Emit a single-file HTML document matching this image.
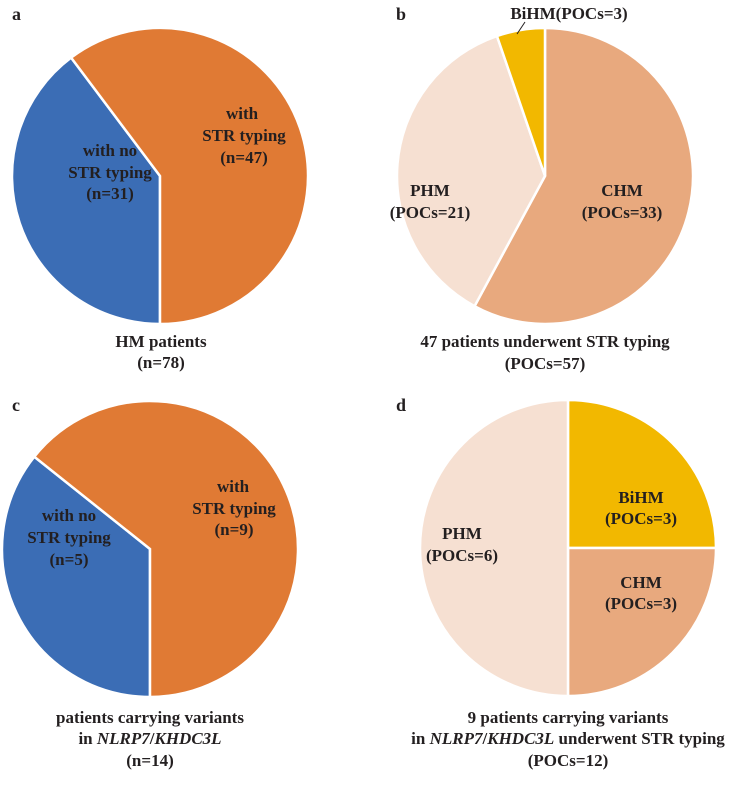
<!DOCTYPE html>
<html><head><meta charset="utf-8">
<style>
html,body{margin:0;padding:0;background:#fff;}
svg{display:block;}
text{font-family:"Liberation Serif",serif;font-weight:bold;font-size:17px;fill:#231f20;text-anchor:middle;}
.lt{font-size:18px;text-anchor:start;}
</style></head>
<body>
<svg id="chart" width="749" height="809" viewBox="0 0 749 809">
<g id="slices"></g>
<g>
<text class="lt" x="12" y="20">a</text>
<text class="lt" x="396" y="20">b</text>
<text class="lt" x="12" y="411">c</text>
<text class="lt" x="396" y="411">d</text>
</g>
<g>
<text x="110" y="156">with no</text>
<text x="110" y="178">STR typing</text>
<text x="110" y="199">(n=31)</text>
<text x="242" y="119">with</text>
<text x="244" y="141">STR typing</text>
<text x="244" y="163">(n=47)</text>
<text x="161" y="347">HM patients</text>
<text x="161" y="368">(n=78)</text>
</g>
<g>
<text x="569" y="19">BiHM(POCs=3)</text>
<line x1="517" y1="34" x2="525" y2="22" stroke="#231f20" stroke-width="1"/>
<text x="430" y="196">PHM</text>
<text x="430" y="218">(POCs=21)</text>
<text x="622" y="196">CHM</text>
<text x="622" y="218">(POCs=33)</text>
<text x="545" y="347">47 patients underwent STR typing</text>
<text x="545" y="369">(POCs=57)</text>
</g>
<g>
<text x="69" y="521">with no</text>
<text x="69" y="543">STR typing</text>
<text x="69" y="565">(n=5)</text>
<text x="233" y="492">with</text>
<text x="234" y="514">STR typing</text>
<text x="234" y="535">(n=9)</text>
<text x="150" y="723">patients carrying variants</text>
<text x="150" y="744">in <tspan font-style="italic">NLRP7</tspan>/<tspan font-style="italic">KHDC3L</tspan></text>
<text x="150" y="766">(n=14)</text>
</g>
<g>
<text x="641" y="503">BiHM</text>
<text x="641" y="524">(POCs=3)</text>
<text x="641" y="588">CHM</text>
<text x="641" y="609">(POCs=3)</text>
<text x="462" y="539">PHM</text>
<text x="462" y="561">(POCs=6)</text>
<text x="568" y="723">9 patients carrying variants</text>
<text x="568" y="744">in <tspan font-style="italic">NLRP7</tspan>/<tspan font-style="italic">KHDC3L</tspan> underwent STR typing</text>
<text x="568" y="766">(POCs=12)</text>
</g>
</svg>
<script>
// data
const aCategories = ["with no STR typing", "with STR typing"];
const aValues = [31, 47];
const bCategories = ["CHM", "PHM", "BiHM"];
const bValues = [33, 21, 3];
const cCategories = ["with no STR typing", "with STR typing"];
const cValues = [5, 9];
const dCategories = ["BiHM", "CHM", "PHM"];
const dValues = [3, 3, 6];

const NS = "http://www.w3.org/2000/svg";
const g = document.getElementById("slices");
function pt(cx, cy, r, deg){const a=(deg-90)*Math.PI/180;return [cx+r*Math.cos(a), cy+r*Math.sin(a)];}
function drawPie(cats, vals, colors, cx, cy, r, startDeg){
  const total = vals.reduce((s,v)=>s+v,0);
  let ang = startDeg;
  cats.forEach((c,i)=>{
    const sweep = vals[i]/total*360;
    const p1 = pt(cx,cy,r,ang), p2 = pt(cx,cy,r,ang+sweep);
    const large = sweep>180?1:0;
    const path = document.createElementNS(NS,"path");
    path.setAttribute("d",`M${cx},${cy} L${p1[0]},${p1[1]} A${r},${r} 0 ${large} 1 ${p2[0]},${p2[1]} Z`);
    path.setAttribute("fill",colors[i]);
    path.setAttribute("stroke","#fff");
    path.setAttribute("stroke-width","2.5");
    
    
    g.appendChild(path);
    ang += sweep;
  });
}
const blue="#3b6db5", orange="#e07a34";
drawPie(aCategories, aValues, [blue, orange], 160, 176, 148, 180);
drawPie(bCategories, bValues, ["#e8a97e","#f6e0d2","#f2b800"], 545, 176, 148, 0);
drawPie(cCategories, cValues, [blue, orange], 150, 549, 148, 180);
drawPie(dCategories, dValues, ["#f2b800","#e8a97e","#f6e0d2"], 568, 548, 148, 0);
</script>
</body></html>
